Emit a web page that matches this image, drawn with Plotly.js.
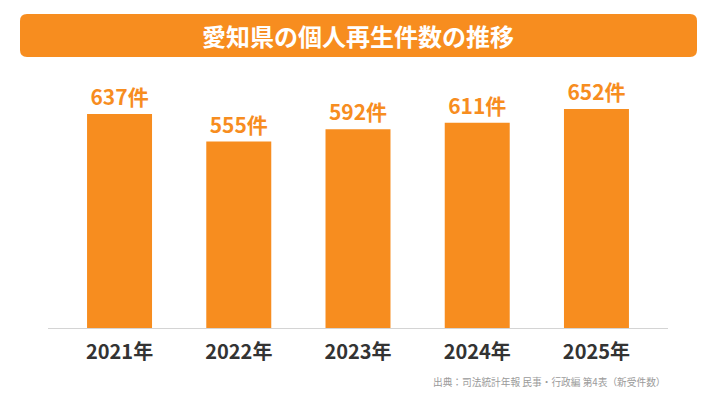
<!DOCTYPE html>
<html><head><meta charset="utf-8">
<script src="https://cdn.plot.ly/plotly-3.0.1.min.js"></script>
<style>html,body{margin:0;padding:0;background:#fff}#c{width:716px;height:403px}</style>
</head><body><div id="c"></div>
<script>
const years = ['2021年','2022年','2023年','2024年','2025年'];
const counts = [637, 555, 592, 611, 652];
const titleText = '愛知県の個人再生件数の推移';
const sourceText = '出典：司法統計年報 民事・行政編 第4表（新受件数）';

const F = '"Noto Sans CJK JP", "Noto Sans", sans-serif';
const orange = '#F78D1F';

const x0=-0.04516, x1=1.04677, y0=1.05039, y1=1.21705, rx=0.0113, ry=0.0271;
const path = `M ${x0+rx},${y0} L ${x1-rx},${y0} Q ${x1},${y0} ${x1},${y0+ry} L ${x1},${y1-ry} Q ${x1},${y1} ${x1-rx},${y1} L ${x0+rx},${y1} Q ${x0},${y1} ${x0},${y1-ry} L ${x0},${y0+ry} Q ${x0},${y0} ${x0+rx},${y0} Z`;

const trace = {
  type:'bar', x: years, y: counts,
  marker:{color: orange},
  text: counts.map(v=>v+'件'),
  textposition:'outside',
  textfont:{family:F, size:21, color:orange, weight:'bold'},
  cliponaxis:false,
  hoverinfo:'none'
};
const layout = {
  width:716, height:403,
  margin:{l:48, r:48, t:70, b:75},
  paper_bgcolor:'#fff', plot_bgcolor:'#fff',
  showlegend:false,
  bargap:0.455,
  xaxis:{range:[-0.6,4.6], showline:true, linecolor:'#d4d4d4', linewidth:1,
         showgrid:false, zeroline:false, ticks:'', fixedrange:true,
         ticklabelstandoff:6,
         tickfont:{family:F, size:20, color:'#333', weight:'bold'}},
  yaxis:{range:[0,768], visible:false, showgrid:false, zeroline:false},
  shapes:[{type:'path', xref:'paper', yref:'paper', path:path, fillcolor:orange, line:{width:0}, layer:'below'}],
  annotations:[
    {xref:'paper', yref:'paper', x:0.5008, y:1.1337, text:titleText, showarrow:false,
     xanchor:'center', yanchor:'middle', font:{family:F, size:24, color:'#fff', weight:'bold'}},
    {xref:'paper', yref:'paper', x:1.0, y:-0.211, text:sourceText, showarrow:false,
     xanchor:'right', yanchor:'middle', font:{family:F, size:9.7, color:'#9a9a9a'}}
  ]
};
Plotly.newPlot('c',[trace],layout,{displayModeBar:false, staticPlot:true});
</script></body></html>
